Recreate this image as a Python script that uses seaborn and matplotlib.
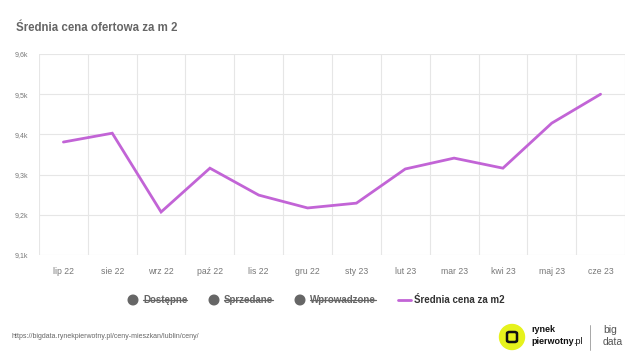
import matplotlib
matplotlib.use("Agg")
import matplotlib.pyplot as plt
import matplotlib.patches as mpatches
from matplotlib.lines import Line2D
import seaborn as sns
import pandas as pd

months = ["lip 22", "sie 22", "wrz 22", "paź 22", "lis 22", "gru 22",
          "sty 23", "lut 23", "mar 23", "kwi 23", "maj 23", "cze 23"]
avg_price = [9381, 9403, 9207, 9316, 9249, 9217, 9229, 9314, 9341, 9316, 9428, 9500]
y_ticks = [9100, 9200, 9300, 9400, 9500, 9600]
y_labels = ["9,1k", "9,2k", "9,3k", "9,4k", "9,5k", "9,6k"]
hidden_series = ["Dostępne", "Sprzedane", "Wprowadzone"]
line_label = "Średnia cena za m2"

LINE = "#c264d6"
GRID = "#e6e6e6"
GRAY = "#666666"
TICK = "#777777"

sns.set_style("white")
plt.rcParams["font.family"] = ["Liberation Sans", "DejaVu Sans"]

df = pd.DataFrame({"month": months, "price": avg_price})

fig = plt.figure(figsize=(6.4, 3.6), dpi=100)
ax = fig.add_axes([39 / 640, 1 - 255 / 360, 586 / 640, 201 / 360])

sns.lineplot(data=df, x="month", y="price", ax=ax, color=LINE, linewidth=2.0,
             sort=False, solid_joinstyle="miter")

ax.set_xlim(-0.5, len(months) - 0.5)
ax.set_ylim(9100, 9600)
ax.set_yticks(y_ticks)
ax.set_yticklabels(y_labels)
ax.set_xticks(range(len(months)))
ax.set_xticklabels(months)
ax.grid(False)
for y in y_ticks:
    ax.axhline(y, color=GRID, lw=0.8, zorder=0)
for i in range(len(months) + 1):
    ax.axvline(i - 0.5, color=GRID, lw=0.8, zorder=0)
for s in ax.spines.values():
    s.set_visible(False)
ax.tick_params(axis="both", length=0, colors=TICK)
ax.tick_params(axis="x", labelsize=6.2, pad=9)
ax.tick_params(axis="y", labelsize=5, pad=8)
ax.set_xlabel("")
ax.set_ylabel("")

fig.text(16 / 640, 1 - 28 / 360, "Średnia cena ofertowa za m 2", fontsize=8.3,
         fontweight="bold", color=GRAY, va="center", ha="left")


def fig_line(xs, ys, **kw):
    fig.lines.append(Line2D(xs, ys, transform=fig.transFigure, figure=fig, **kw))


def fig_circle(cx, cy, r, **kw):
    # cx, cy, r in pixels from the top-left corner
    fig.patches.append(mpatches.Ellipse((cx / 640, 1 - cy / 360), 2 * r / 640, 2 * r / 360,
                                        transform=fig.transFigure, figure=fig, **kw))


# legend
leg_y = 1 - 300 / 360
fig.canvas.draw()
renderer = fig.canvas.get_renderer()
inv = fig.transFigure.inverted()
for name, cx in zip(hidden_series, [133, 214, 300]):
    fig_circle(cx, 300, 4.8, color=GRAY)
    t = fig.text((cx + 10) / 640, leg_y, name, fontsize=7, fontweight="bold",
                 color=GRAY, va="center", ha="left")
    bb = t.get_window_extent(renderer).transformed(inv)
    fig_line([bb.x0, bb.x1], [leg_y, leg_y], color=GRAY, lw=0.9)
fig_line([398 / 640, 411 / 640], [leg_y, leg_y], color=LINE, lw=2)
fig.text(414 / 640, leg_y, line_label, fontsize=7, fontweight="bold",
         color="#333333", va="center", ha="left")

# footer
fig.text(12 / 640, 1 - 337 / 360, "https://bigdata.rynekpierwotny.pl/ceny-mieszkan/lublin/ceny/",
         fontsize=5, color=GRAY, va="center", ha="left")
fig_circle(512, 337, 12.5, color="#e6f21c")
fig.patches.append(mpatches.FancyBboxPatch((507 / 640, 1 - 342 / 360), 10 / 640, 10 / 360,
                                           boxstyle="round,pad=0,rounding_size=0.004",
                                           fill=False, ec="#111111", lw=1.8,
                                           transform=fig.transFigure, figure=fig))
fig.text(531 / 640, 1 - 330 / 360, "rynek", fontsize=6.5, fontweight="bold",
         color="#111111", va="center", ha="left")
pw = fig.text(531 / 640, 1 - 342 / 360, "pierwotny", fontsize=6.5, fontweight="bold",
              color="#111111", va="center", ha="left")
pbb = pw.get_window_extent(renderer).transformed(inv)
fig.text(pbb.x1, 1 - 342 / 360, ".pl", fontsize=6.5, color="#111111",
         va="center", ha="left")
fig_line([590 / 640, 590 / 640], [1 - 325 / 360, 1 - 350 / 360], color="#999999", lw=0.6)
fig.text(603 / 640, 1 - 330 / 360, "big", fontsize=7.5, color="#555555",
         va="center", ha="left")
fig.text(603 / 640, 1 - 342 / 360, "data", fontsize=7.5, color="#555555",
         va="center", ha="left")

fig.savefig("out.png", dpi=100, facecolor="white")
